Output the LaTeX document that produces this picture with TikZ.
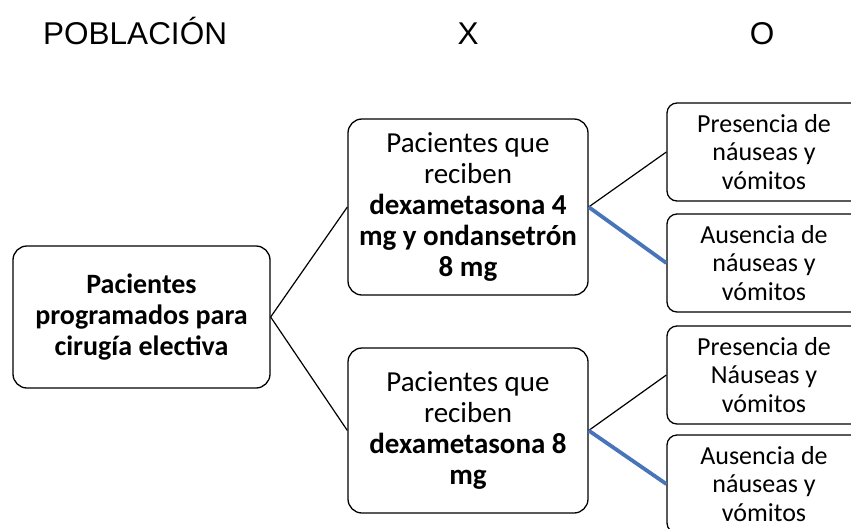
\documentclass[tikz,border=0pt]{standalone}
\usepackage{fontspec}
\setmainfont{Carlito}
\newfontfamily\headfont{Liberation Sans}
\usepackage{tikz}
\usetikzlibrary{positioning}

\definecolor{ramaazul}{RGB}{72,117,185}

\begin{document}
\begin{tikzpicture}[x=1pt, y=-1pt,
    caja/.style={draw, line width=1.3pt, rounded corners=14pt, align=center, inner sep=0pt,
        font=\fontsize{29}{31}\selectfont},
    cajaO/.style={caja, rounded corners=10pt, minimum width=194pt, minimum height=98pt,
        font=\fontsize{26}{28.5}\selectfont},
    titulo/.style={inner sep=0pt, font=\headfont\fontsize{31.5}{36}\selectfont},
    rama/.style={line width=1.2pt},
    ramaB/.style={line width=3.8pt, ramaazul}]
        % --- tamaño de la figura ---
        \def\anchoF{851}
        \def\altoF{528}
        \def\colX{468}
        \def\colO{764}
        \useasboundingbox (0,0) rectangle (\anchoF,\altoF);
        \clip (0,0) rectangle (\anchoF,\altoF);

        % --- títulos de columna ---
        \node[titulo, anchor=base west] (tP) at (43,44) {POBLACIÓN};
        \node[titulo, anchor=base] (tX) at (\colX,44) {X};
        \node[titulo, anchor=base] (tO) at (762,44) {O};

        % --- población ---
        \node[caja, minimum width=257pt, minimum height=142pt, font=\fontsize{28}{31}\selectfont] (pob) at (141.5,317)
            {\textbf{Pacientes}\\\textbf{programados para}\\\textbf{cirugía electiva}};

        % --- intervenciones ---
        \node[caja, minimum width=240pt, minimum height=176pt] (x1) at (\colX,207)
            {Pacientes que\\reciben\\\textbf{dexametasona 4}\\\textbf{mg y ondansetrón}\\\textbf{8 mg}};
        \node[caja, minimum width=240pt, minimum height=165pt] (x2) at (\colX,430.5)
            {Pacientes que\\reciben\\\textbf{dexametasona 8}\\\textbf{mg}};

        % --- resultados ---
        \foreach \y/\nom/\txt in {152/o1/{Presencia de\\náuseas y\\vómitos},
                                  263/o2/{Ausencia de\\náuseas y\\vómitos},
                                  375/o3/{Presencia de\\Náuseas y\\vómitos},
                                  484/o4/{Ausencia de\\náuseas y\\vómitos}}
            \node[cajaO] (\nom) at (\colO,\y) {\txt};

        % --- ramas ---
        \draw[rama] (pob.east) -- (x1.west);
        \draw[rama] (pob.east) -- (x2.west);
        \draw[rama] (x1.east) -- (o1.west);
        \draw[ramaB] (x1.east) -- (o2.west);
        \draw[rama] (x2.east) -- (o3.west);
        \draw[ramaB] (x2.east) -- (o4.west);

    \end{tikzpicture}
\end{document}
